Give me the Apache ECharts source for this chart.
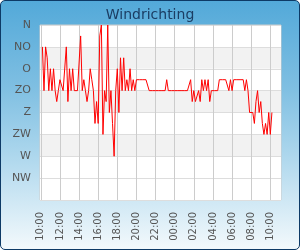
<!DOCTYPE html>
<html>
<head>
<meta charset="utf-8">
<script src="https://cdn.jsdelivr.net/npm/echarts@6/dist/echarts.min.js"></script>
<style>
  html, body { margin: 0; padding: 0; background: #fff; }
  #wrap {
    width: 300px; height: 250px; box-sizing: border-box;
    border: 1px solid #0d3a66; border-radius: 5px; overflow: hidden;
    background: linear-gradient(to bottom, #53a9d9 0%, #7fbfe2 35%, #a9d5ec 60%, #f3f9fc 100%);
  }
  #chart { width: 298px; height: 248px; }
</style>
</head>
<body>
<div id="wrap"><div id="chart"></div></div>
<script>
// Title and axis texts
const titleText = 'Windrichting';
const directionLabels = ['N', 'NO', 'O', 'ZO', 'Z', 'ZW', 'W', 'NW', ''];
// Tick positions on the time axis: hours counted from 00:00 of the first day
const tickHours = [10, 12, 14, 16, 18, 20, 22, 24, 26, 28, 30, 32, 34];
// Sampling: first reading at 10:10 (hour 10 + 10/60), one reading every 10 minutes
const firstReadingHour = 10 + 10 / 60;
const stepMinutes = 10;
// Axis window in hours from 00:00 of the first day
const axisStartHour = 9 + 55 / 60;
const axisEndHour = 35 + 7 / 60;
// Wind direction in degrees (0 = N, 90 = O, 180 = Z, 270 = W)
const windDir = [
  45, 135, 45, 67.5, 135, 90, 135, 90, 135, 157.5,
  135, 112.5, 112.5, 135, 135, 45, 157.5, 90, 135, 90,
  135, 135, 135, 135, 22.5, 135, 112.5, 135, 157.5, 135,
  90, 112.5, 135, 202.5, 157.5, 202.5, 22.5, 0, 225, 135,
  157.5, 0, 180, 135, 202.5, 270, 135, 90, 180, 67.5,
  135, 67.5, 135, 112.5, 135, 90, 135, 112.5, 135, 112.5,
  112.5, 112.5, 112.5, 112.5, 112.5, 112.5, 112.5, 135, 135, 135,
  135, 135, 135, 135, 135, 135, 135, 135, 112.5, 135,
  135, 135, 135, 135, 135, 135, 135, 135, 135, 135,
  135, 135, 135, 112.5, 157.5, 135, 157.5, 157.5, 135, 157.5,
  112.5, 135, 112.5, 135, 112.5, 157.5, 135, 135, 135, 135,
  135, 112.5, 112.5, 112.5, 112.5, 112.5, 112.5, 135, 112.5, 135,
  112.5, 112.5, 112.5, 112.5, 112.5, 112.5, 112.5, 135, 112.5, 135,
  180, 180, 180, 202.5, 157.5, 135, 180, 157.5, 202.5, 225,
  202.5, 225, 180, 225, 180
];

const seriesData = windDir.map((v, i) => [firstReadingHour + i * stepMinutes / 60, v]);

const chart = echarts.init(document.getElementById('chart'), null, { renderer: 'canvas' });
chart.setOption({
  animation: false,
  backgroundColor: 'transparent',
  textStyle: { fontFamily: 'DejaVu Sans' },
  title: {
    text: titleText, left: 'center', top: 2,
    textStyle: { fontSize: 14, fontWeight: 'normal', color: '#1b3d63', fontFamily: 'DejaVu Sans' }
  },
  grid: {
    left: 39, right: 18, top: 24, bottom: 49,
    show: true, backgroundColor: '#ffffff', borderColor: '#cccccc', borderWidth: 1
  },
  xAxis: {
    type: 'value',
    min: axisStartHour,
    max: axisEndHour,
    axisLine: { show: false },
    axisTick: { show: false, customValues: tickHours },
    splitLine: { show: true, lineStyle: { color: '#cccccc', width: 1 } },
    axisLabel: {
      customValues: tickHours,
      rotate: 90, margin: 12, fontSize: 10, color: '#555555',
      fontFamily: 'DejaVu Sans',
      formatter: v => String(Math.round(v) % 24).padStart(2, '0') + ':00',
      hideOverlap: false
    }
  },
  yAxis: {
    type: 'value', inverse: true, min: 0, max: 360, interval: 45,
    axisLine: { show: false },
    axisTick: { show: false },
    splitLine: { show: true, lineStyle: { color: '#dddddd', width: 1 } },
    splitArea: {
      show: true,
      areaStyle: { color: ['#ffffff', '#f2f2f2', '#ffffff', '#f2f2f2', '#ffffff', '#f2f2f2', '#ffffff', '#ffffff'] }
    },
    axisLabel: {
      margin: 9, fontSize: 11, color: '#555555', fontFamily: 'DejaVu Sans',
      formatter: v => directionLabels[Math.round(v / 45)]
    }
  },
  series: [{
    type: 'line',
    data: seriesData,
    showSymbol: false,
    lineStyle: { color: '#ff0000', width: 1 },
    itemStyle: { color: '#ff0000' }
  }]
});
</script>
</body>
</html>
